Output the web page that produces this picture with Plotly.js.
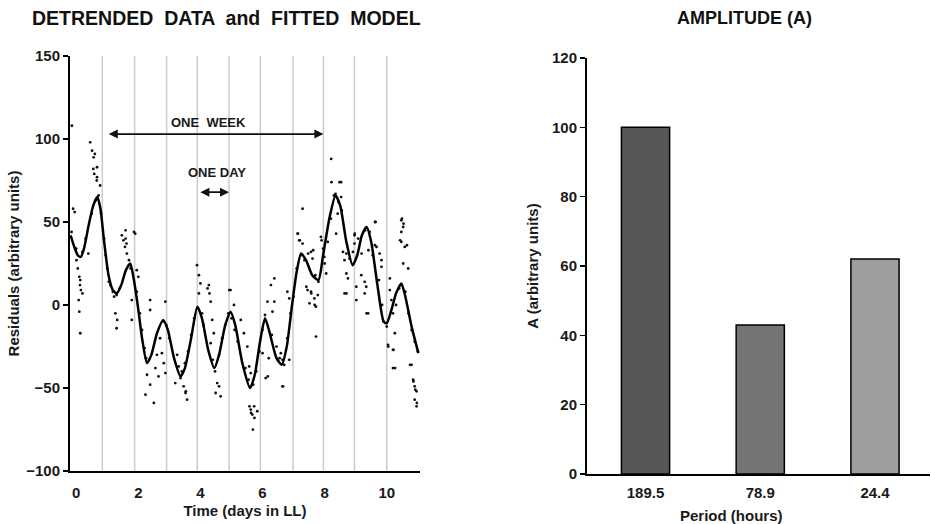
<!DOCTYPE html>
<html>
<head>
<meta charset="utf-8">
<script src="https://cdn.plot.ly/plotly-3.0.1.min.js"></script>
<style>html,body{margin:0;padding:0;background:#fff;}#chart{width:931px;height:524px;}</style>
</head>
<body>
<div id="chart"></div>
<script>
// Fitted model curve (days, residuals)
const fitDays = [-0.18,-0.08,0.05,0.15,0.25,0.4,0.55,0.68,0.78,0.9,1.04,1.18,1.31,1.45,1.6,1.74,1.85,1.98,2.12,2.28,2.42,2.6,2.8,2.95,3.15,3.36,3.5,3.7,3.9,4.05,4.25,4.45,4.6,4.8,4.97,5.12,5.35,5.6,5.75,5.92,6.08,6.22,6.45,6.62,6.78,6.95,7.1,7.24,7.4,7.6,7.8,7.95,8.15,8.35,8.5,8.7,8.9,9.05,9.2,9.35,9.5,9.7,9.9,10.0,10.15,10.3,10.47,10.6,10.8,11.02];
const fitVals = [42,36,30,29,34,48,60,65,58,38,18,9,7,12,21,25,16,0,-20,-35,-30,-17,-9,-15,-32,-43,-38,-20,-1,-8,-27,-38,-30,-12,-4,-12,-35,-50,-42,-22,-8,-16,-32,-36,-25,0,20,31,27,18,15,30,52,66,60,38,24,30,42,47,38,12,-10,-11,-3,7,13,5,-13,-29];

// Detrended observations (days, residuals)
const obsDays = [-0.14,-0.1,-0.05,0.01,0.05,0.1,0.13,0.12,0.15,0.2,0.08,0.1,0.13,0.39,
0.45,0.51,0.56,0.6,0.67,0.67,0.55,0.58,0.66,0.77,
-0.15,0.0,0.2,0.3,0.5,0.62,0.72,0.8,0.9,
0.95,1.0,1.05,1.1,1.18,1.22,1.3,1.26,1.32,1.3,1.4,1.47,1.52,1.57,1.63,1.59,1.59,1.62,1.7,1.75,1.79,1.79,1.86,1.9,1.95,2.0,1.95,2.05,2.12,2.2,2.25,2.28,2.38,2.23,2.38,2.38,2.5,2.55,2.65,2.6,2.7,2.76,2.82,2.87,2.87,2.8,2.9,3.0,
3.19,3.25,3.3,3.36,3.46,3.52,3.57,3.53,3.4,3.5,3.6,3.7,3.8,3.89,3.95,4.0,3.95,3.92,4.05,4.1,4.23,4.27,4.29,4.33,4.38,4.43,4.33,4.4,4.47,4.54,4.6,4.49,4.65,4.6,4.7,4.8,4.9,4.97,5.08,4.93,5.0,5.1,5.2,
5.3,5.4,5.51,5.57,5.62,5.45,5.55,5.62,5.58,5.63,5.74,5.69,5.73,5.83,5.67,5.7,5.8,5.9,6.0,6.0,6.1,6.08,6.16,6.17,6.2,6.27,6.32,6.38,6.38,6.3,6.45,6.55,6.59,6.64,6.64,6.66,6.7,6.8,6.86,6.86,6.8,6.9,7.0,7.1,
7.13,7.18,7.14,7.2,7.29,7.29,7.25,7.35,7.41,7.45,7.47,7.51,7.56,7.56,7.57,7.61,7.63,7.67,7.68,7.72,7.72,7.78,7.7,7.8,7.88,7.9,7.95,7.99,8.05,8.0,8.1,8.2,
8.21,8.22,8.48,8.3,8.35,8.42,8.37,8.45,8.53,8.53,8.55,8.59,8.64,8.64,8.7,8.7,8.75,8.7,8.8,8.91,8.96,8.96,8.97,9.02,9.02,9.08,9.18,9.19,9.29,9.34,9.29,9.35,9.4,9.3,9.41,9.45,9.55,9.62,9.62,9.64,9.67,9.77,9.83,9.83,9.75,9.85,9.9,10.0,
10.04,10.05,10.1,10.1,10.15,10.2,10.2,10.22,10.2,10.27,10.26,10.3,10.4,10.43,10.47,10.49,10.53,10.54,10.47,10.47,10.58,10.65,10.53,10.69,10.6,10.75,10.8,10.85,10.86,10.9,10.92,10.96,10.9,10.96,10.97,10.7,10.8,10.9,11.0];
const obsVals = [108,58,56,27,22,17,15,12,9,7,3,-4,-17,31,
98,93,89,91,83,77,82,79,75,72,
44,34,32,40,55,63,66,55,40,
30,22,14,12,8,5,6,-5,-9,-14,10,42,39,35,31,45,40,37,27,22,3,-9,44,43,21,17,8,-5,-15,-26,-32,-42,-48,-54,3,-3,-59,-38,-43,-30,-20,-29,-35,-41,2,-10,-12,-20,
-47,-30,-37,-44,-49,-53,-57,-52,-40,-35,-28,-18,-8,24,18,13,7,-2,-5,-12,10,12,7,2,-9,-17,-23,-33,-40,-47,-49,-53,-55,-30,-20,-12,-5,9,0,9,-8,-15,-22,
-9,-17,-25,-37,-41,-38,-45,-63,-61,-65,-68,-75,-61,-64,-66,-48,-40,-28,-29,-15,-44,-6,2,-43,-32,12,-4,16,2,-18,-25,-32,-29,-33,-49,-49,-36,8,4,-33,-20,-5,5,22,
43,39,43,39,37,58,30,27,11,9,31,1,32,8,7,28,33,4,0,-1,-19,6,18,14,41,39,34,29,19,25,38,52,
88,74,74,66,67,55,43,62,74,65,57,32,27,7,31,19,16,7,28,32,42,37,43,11,3,40,18,31,14,11,7,-5,-5,45,33,44,30,36,50,50,35,31,27,23,15,0,-10,-13,
-24,-25,16,9,3,-5,-27,-27,-38,-38,-17,0,10,39,51,52,47,49,44,38,35,36,25,22,8,-36,-36,-45,-46,-49,-51,-52,-57,-61,-59,-5,-15,-22,-28];

// Day boundary lines
const dayLines = [0.84,1.88,2.91,3.9,4.92,5.93,6.98,7.96,8.96,10.0];

// Amplitude panel
const periods = ['189.5','78.9','24.4'];
const amplitudes = [100,43,62];
const barColors = ['#575757','#747474','#9e9e9e'];

const FONT = 'Liberation Sans, Arial, sans-serif';
const TXT = '#1a1a1a';

const traces = [
  {x: obsDays, y: obsVals, type: 'scatter', mode: 'markers', xaxis: 'x', yaxis: 'y',
   marker: {color: '#111', size: 2.8}, hoverinfo: 'skip', showlegend: false},
  {x: fitDays, y: fitVals, type: 'scatter', mode: 'lines', xaxis: 'x', yaxis: 'y',
   line: {color: '#000', width: 2.5, shape: 'spline', smoothing: 0.6}, showlegend: false},
  {x: periods, y: amplitudes, type: 'bar', xaxis: 'x2', yaxis: 'y2', width: 0.42,
   marker: {color: barColors, line: {color: '#000', width: 1.5}}, showlegend: false}
];

const shapes = dayLines.map(d => ({type: 'line', xref: 'x', yref: 'y', x0: d, x1: d, y0: -100, y1: 150,
  line: {color: '#cccccc', width: 1.5}, layer: 'below'}));

const tickFont = {family: FONT, size: 15, color: TXT, weight: 'bold'};
const titleFont = {family: FONT, size: 15, color: TXT, weight: 'bold'};

const layout = {
  width: 931, height: 524,
  margin: {l: 0, r: 0, t: 0, b: 0},
  paper_bgcolor: '#fff', plot_bgcolor: 'rgba(0,0,0,0)',
  showlegend: false,
  xaxis: {anchor: 'y', domain: [0.0752, 0.4511], range: [-0.2, 11.07], tickvals: [0,2,4,6,8,10],
    showgrid: false, zeroline: false, showline: true, linecolor: '#000', linewidth: 2,
    ticks: 'outside', ticklen: 7, tickcolor: 'rgba(0,0,0,0)', tickfont: tickFont, automargin: false,
    title: {text: 'Time (days in LL)', font: titleFont, standoff: 5}},
  yaxis: {anchor: 'x', domain: [0.1011, 0.8931], range: [-100, 150], tickvals: [-100,-50,0,50,100,150],
    showgrid: false, zeroline: false, showline: true, linecolor: '#000', linewidth: 2,
    ticks: 'outside', ticklen: 5, tickwidth: 1.5, tickcolor: '#000', tickfont: tickFont, automargin: false,
    title: {text: 'Residuals (arbitrary units)', font: titleFont, standoff: 3}},
  xaxis2: {anchor: 'y2', domain: [0.6305, 0.999], range: [-0.51, 2.48], type: 'category',
    showgrid: false, zeroline: false, showline: true, linecolor: '#000', linewidth: 2,
    ticks: 'outside', ticklen: 4, tickcolor: 'rgba(0,0,0,0)', tickfont: tickFont, automargin: false},
  yaxis2: {anchor: 'x2', domain: [0.0954, 0.8893], range: [0, 120], tickvals: [0,20,40,60,80,100,120],
    showgrid: false, zeroline: false, showline: true, linecolor: '#000', linewidth: 2,
    ticks: 'outside', ticklen: 5, tickwidth: 1.5, tickcolor: '#000', tickfont: tickFont, automargin: false,
    title: {text: 'A (arbitrary units)', font: titleFont, standoff: 10}},
  shapes: shapes,
  annotations: [
    {xref: 'paper', yref: 'paper', x: 226/931, y: 1 - 18/524, text: 'DETRENDED  DATA  and  FITTED  MODEL', showarrow: false,
     font: {family: FONT, size: 19.5, color: '#111', weight: 'bold'}, xanchor: 'center', yanchor: 'middle'},
    {xref: 'paper', yref: 'paper', x: 744/931, y: 1 - 18/524, text: 'AMPLITUDE (A)', showarrow: false,
     font: {family: FONT, size: 18, color: '#111', weight: 'bold'}, xanchor: 'center', yanchor: 'middle'},
    {xref: 'paper', yref: 'paper', x: 731/931, y: 1 - 515/524, text: 'Period (hours)', showarrow: false,
     font: titleFont, xanchor: 'center', yanchor: 'middle'},
    {xref: 'x', yref: 'y', x: 4.27, y: 110, text: 'ONE  WEEK', showarrow: false,
     font: {family: FONT, size: 13, color: TXT, weight: 'bold'}},
    {xref: 'x', yref: 'y', x: 7.96, y: 103, ax: 1.0, ay: 103, axref: 'x', ayref: 'y', text: '',
     showarrow: true, arrowhead: 2, arrowside: 'end+start', arrowsize: 1, arrowwidth: 1.8, arrowcolor: '#111'},
    {xref: 'x', yref: 'y', x: 4.54, y: 80, text: 'ONE DAY', showarrow: false,
     font: {family: FONT, size: 13, color: TXT, weight: 'bold'}},
    {xref: 'x', yref: 'y', x: 4.92, y: 68, ax: 3.95, ay: 68, axref: 'x', ayref: 'y', text: '',
     showarrow: true, arrowhead: 2, arrowside: 'end+start', arrowsize: 1, arrowwidth: 1.8, arrowcolor: '#111'}
  ]
};

Plotly.newPlot('chart', traces, layout, {displayModeBar: false, staticPlot: true});
</script>
</body>
</html>
